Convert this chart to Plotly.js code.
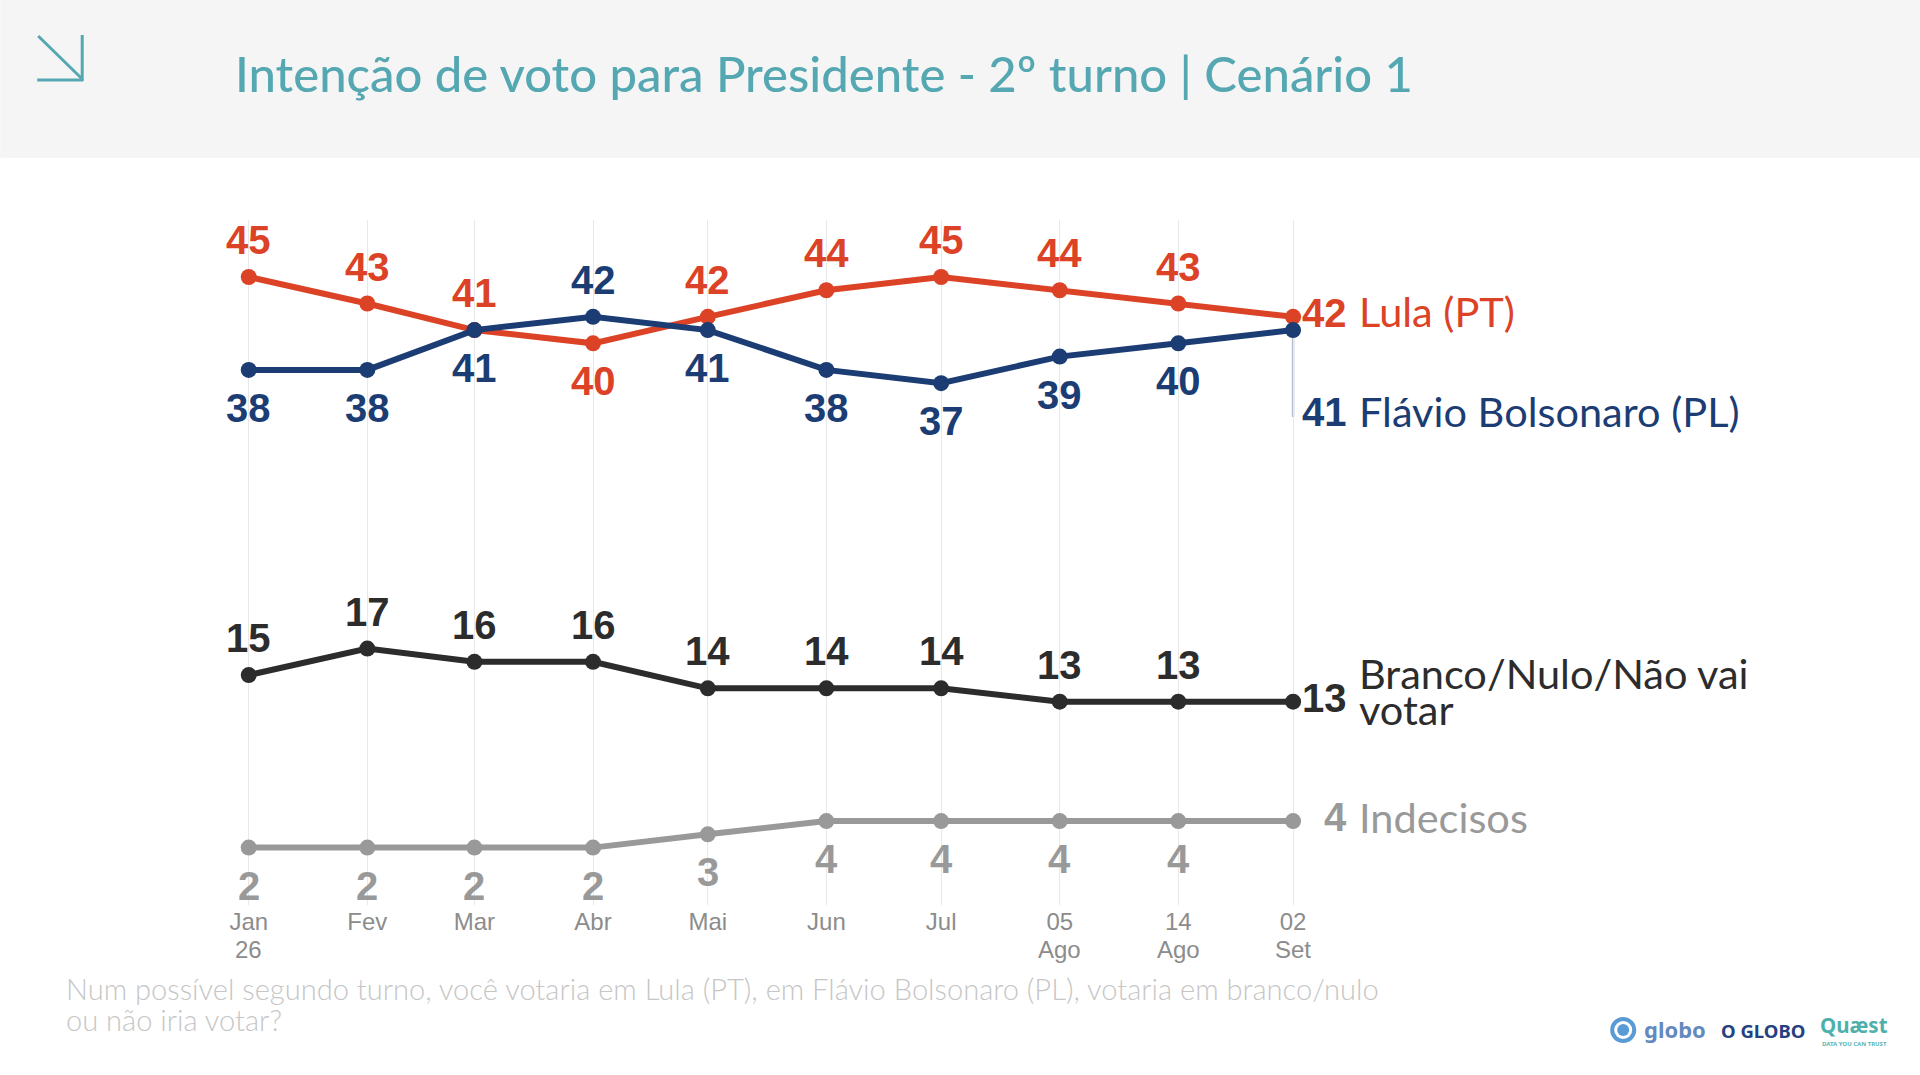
<!DOCTYPE html>
<html><head><meta charset="utf-8">
<script src="https://cdn.plot.ly/plotly-3.0.1.min.js"></script>
<style>html,body{margin:0;padding:0;background:#fff}#c{width:1920px;height:1075px}</style>
</head><body><div id="c"></div>
<script>
// Horizontal spacing of the rounds (days between slots)
const slots = [0,31,59,90,120,151,181,212,243,273];
const tickLine1 = ['Jan','Fev','Mar','Abr','Mai','Jun','Jul','05','14','02'];
const tickLine2 = ['26','','','','','','','Ago','Ago','Set'];
const lula   = [45,43,41,40,42,44,45,44,43,42];
const flavio = [38,38,41,42,41,38,37,39,40,41];
const branco = [15,17,16,16,14,14,14,13,13,13];
const indecisos = [2,2,2,2,3,4,4,4,4,4];
const lulaPos   = ['top','top','top','bottom','top','top','top','top','top','top'];
const flavioPos = ['bottom','bottom','bottom','top','bottom','bottom','bottom','bottom','bottom','bottom'];
const titleText = 'Intenção de voto para Presidente - 2º turno | Cenário 1';
const noteLine1 = 'Num possível segundo turno, você votaria em Lula (PT), em Flávio Bolsonaro (PL), votaria em branco/nulo';
const noteLine2 = 'ou não iria votar?';

const RED='#dc4226', NAVY='#1b3d73', DARK='#2c2c2c', GREY='#999999', TEAL='#55a8b2';
const W=1920,H=1075,L=198.8,T=220,PW=1140,PH=685;
const NUM="'Liberation Sans Narrow','Liberation Sans',sans-serif", TXT="Lato,sans-serif";
const px=x=>(x-L)/PW, py=y=>1-(y-T)/PH;

function series(name,vals,color){
  return {x:slots,y:vals,name,type:'scatter',mode:'lines+markers',cliponaxis:false,
    line:{color,width:6},marker:{color,size:16},hoverinfo:'skip'};
}
const traces=[
  series('Lula (PT)',lula,RED),
  series('Flávio Bolsonaro (PL)',flavio,NAVY),
  series('Branco/Nulo/Não vai votar',branco,DARK),
  series('Indecisos',indecisos,GREY),
];
function pointLabels(vals,color,pos){
  return vals.slice(0,-1).map((v,i)=>({x:slots[i],y:v,xref:'x',yref:'y',xanchor:'center',yanchor:'middle',
    yshift:pos[i]==='top'?37:-38,showarrow:false,text:'<b>'+v+'</b>',font:{family:NUM,size:40,color}}));
}
const last=slots[slots.length-1];
function endNum(v,color,shift){return {x:last,y:v,xref:'x',yref:'y',xanchor:'right',yanchor:'middle',xshift:56,yshift:shift,showarrow:false,
  text:'<b>'+v+'</b>',font:{family:NUM,size:40,color}};}
function endName(v,t,color,shift){return {x:last,y:v,xref:'x',yref:'y',xanchor:'left',yanchor:'middle',xshift:64,yshift:shift,showarrow:false,
  text:t,font:{family:TXT,size:41.5,color}};}
function pxText(x,y,t,size,color,family,anchor,weight){return {x:px(x),y:py(y),xref:'paper',yref:'paper',xanchor:anchor||'left',yanchor:'middle',showarrow:false,
  text:t,font:{family:family||TXT,size,color,weight:weight||400},align:'left'};}
const annotations=[
  ...pointLabels(lula,RED,lulaPos),
  ...pointLabels(flavio,NAVY,flavioPos),
  ...pointLabels(branco,DARK,branco.map(()=>'top')),
  ...pointLabels(indecisos,GREY,indecisos.map(()=>'bottom')),
  endNum(42,RED,4), endName(42,'Lula (PT)',RED,6),
  endNum(41,NAVY,-82), endName(41,'Flávio Bolsonaro (PL)',NAVY,-81),
  endNum(13,DARK,4), endName(13,'Branco/Nulo/Não vai',DARK,29), endName(13,'votar',DARK,-7),
  endNum(4,GREY,4), endName(4,'Indecisos',GREY,4),
  ...tickLine2.map((t,i)=>t?{x:slots[i],y:py(949),xref:'x',yref:'paper',xanchor:'center',yanchor:'middle',showarrow:false,
     text:t,font:{family:NUM,size:24,color:'#8c8c8c'}}:null).filter(Boolean),
  pxText(64,988,noteLine1,29.1,'#c6c6c6',TXT,'left',300),
  pxText(64,1020,noteLine2,29.1,'#c6c6c6',TXT,'left',300),
  pxText(1642,1029,'<b>globo</b>',22,'#6389bf',"'Noto Sans',sans-serif"),
  pxText(1719,1030,'<b>O GLOBO</b>',18.5,'#23407f',"'Noto Sans',sans-serif"),
  pxText(1818,1025,'<b>Quæst</b>',20.5,'#4db0ac',"'Noto Sans',sans-serif"),
  pxText(1820,1044,'<b>DATA YOU CAN TRUST</b>',6,'#5bb5b2',"'Noto Sans',sans-serif"),
];
function rect(x0,y0,x1,y1,fill){return {type:'rect',xref:'paper',yref:'paper',x0:px(x0),x1:px(x1),y0:py(y0),y1:py(y1),fillcolor:fill,line:{width:0},layer:'below'};}
function seg(x0,y0,x1,y1,color,w){return {type:'line',xref:'paper',yref:'paper',x0:px(x0),x1:px(x1),y0:py(y0),y1:py(y1),line:{color,width:w},layer:'above'};}
function circ(cx,cy,r,fill){return {type:'circle',xref:'paper',yref:'paper',x0:px(cx-r),x1:px(cx+r),y0:py(cy-r),y1:py(cy+r),fillcolor:fill,line:{width:0},layer:'above'};}
const shapes=[
  rect(0,0,W,158,'#f5f5f5'),
  seg(38,36,82,79,TEAL,3), seg(82,35,82,81,TEAL,3), seg(37,80,83,80,TEAL,3),
  {type:'line',xref:'x',yref:'y',x0:last,x1:last,y0:41,y1:34.45,line:{color:'#b5bccd',width:2.5},layer:'below'},
  circ(1623,1030,13,'#5b9bd5'), circ(1623,1030,9,'#ffffff'), circ(1623,1030,6,'#5b9bd5'),
];
const layout={width:W,height:H,autosize:false,showlegend:false,
  paper_bgcolor:'#fff',plot_bgcolor:'rgba(0,0,0,0)',
  margin:{l:L,t:T,r:W-L-PW,b:H-T-PH,pad:0},
  title:{text:titleText,x:235/W,xanchor:'left',y:1-75/H,yanchor:'middle',yref:'container',xref:'container',
    font:{family:TXT,size:49,color:TEAL,weight:500}},
  xaxis:{range:[-13,285],tickmode:'array',tickvals:slots,ticktext:tickLine1,showgrid:true,gridcolor:'#e8e8e8',gridwidth:1,
    zeroline:false,showline:false,ticks:'',tickangle:0,
    tickfont:{family:NUM,size:24,color:'#8c8c8c'}},
  yaxis:{range:[-2.325,49.295],visible:false,showgrid:false,zeroline:false},
  annotations,shapes};
Plotly.newPlot('c',traces,layout,{displayModeBar:false,staticPlot:true});
</script></body></html>
